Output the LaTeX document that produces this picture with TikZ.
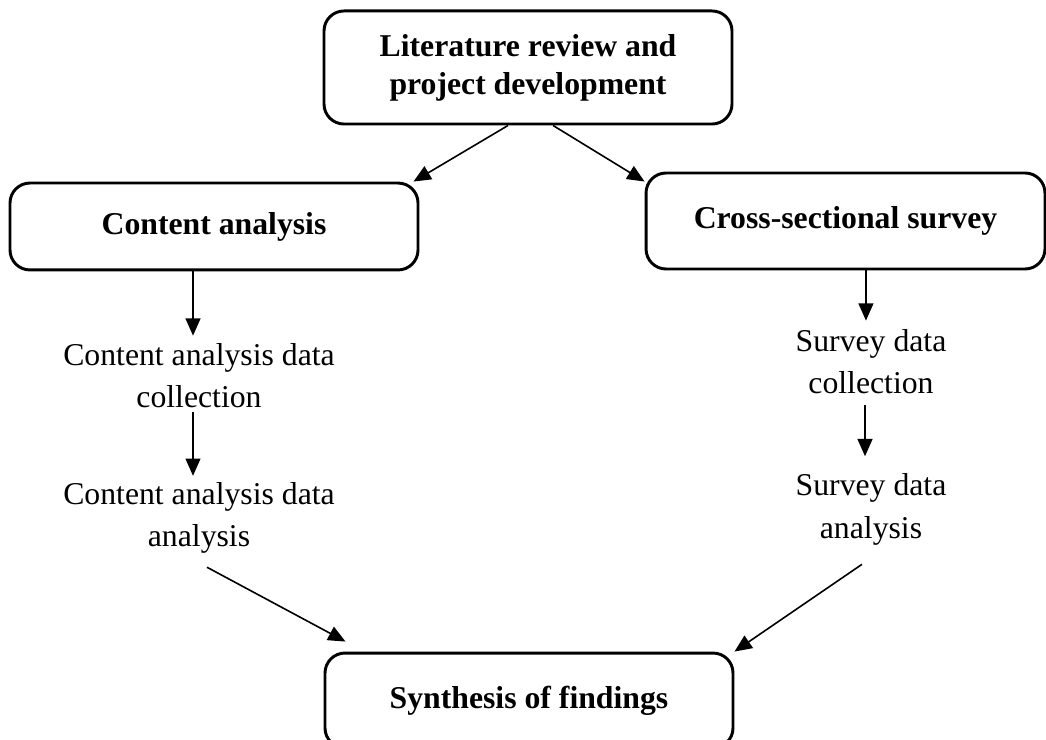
\documentclass[tikz,border=0pt]{standalone}
\usepackage{fontspec}
\setmainfont{Liberation Serif}
\usetikzlibrary{arrows.meta}

\tikzset{
  stage/.style={draw, line width=1.1pt, rounded corners=7.5pt, align=center,
    font=\fontsize{11.9pt}{14.3pt}\selectfont\bfseries},
  note/.style={inner sep=0pt, align=center, font=\fontsize{11.9pt}{15.9pt}\selectfont},
  flow/.style={line width=0.6pt, -{Triangle[length=6.5pt,width=5.6pt]}}
}

\begin{document}
\begin{tikzpicture}[x=0.375pt, y=-0.375pt]
  \useasboundingbox (0,0) rectangle (1046,740);

  % boxes
  \node[stage, minimum width=153pt, minimum height=42.4pt] (lit) at (528,67.5)
    {Literature review and\\project development};
  \node[stage, minimum width=153pt, minimum height=32.6pt] (content) at (214,226.5)
    {Content analysis};
  \node[stage, minimum width=149.6pt, minimum height=36pt] (survey) at (845.5,221)
    {Cross-sectional survey};
  \node[stage, minimum width=153pt, minimum height=35.6pt] (synth) at (529,700.5)
    {Synthesis of findings};

  % steps
  \node[note] (cadc) at (199,375.5) {Content analysis data\\collection};
  \node[note] (cada) at (199,518) {Content analysis data\\analysis};
  \node[note] (sdc) at (871,361.5) {Survey data\\collection};
  \node[note] (sda) at (871,509.5) {Survey data\\analysis};

  % arrows
  \draw[flow] ([xshift=-7.5pt]lit.south) -- ([xshift=-2.25pt]content.north east);
  \draw[flow] ([xshift=9.4pt]lit.south) -- ([yshift=-3.75pt]survey.north west);
  \draw[flow] ([xshift=-2.25pt]cadc.north |- content.south) -- ([xshift=-2.25pt,yshift=2.6pt]cadc.north);
  \draw[flow] ([xshift=-2.25pt,yshift=-1.5pt]cadc.south) -- ([xshift=-2.25pt,yshift=2.25pt]cada.north);
  \draw[flow] ([xshift=-1.9pt]sdc.north |- survey.south) -- ([xshift=-1.9pt,yshift=3pt]sdc.north);
  \draw[flow] ([xshift=-2.25pt,yshift=-4pt]sdc.south) -- ([xshift=-2.25pt,yshift=6.4pt]sda.north);
  \draw[flow] ([xshift=3pt,yshift=-4.9pt]cada.south) -- ([xshift=8.25pt,yshift=3.75pt]synth.north west);
  \draw[flow] ([xshift=-3.4pt,yshift=-7pt]sda.south) -- (synth.north east);
\end{tikzpicture}
\end{document}
